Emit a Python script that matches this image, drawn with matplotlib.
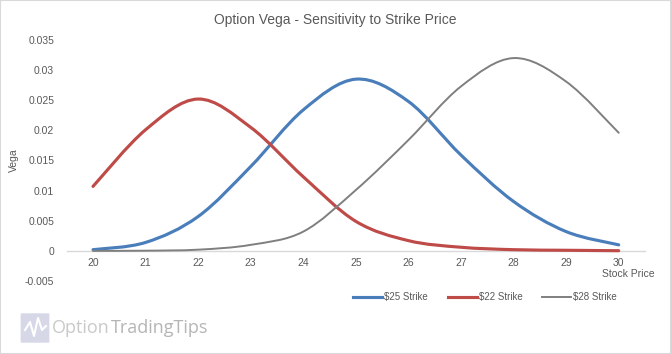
import matplotlib
matplotlib.use("Agg")
import matplotlib.pyplot as plt
from matplotlib.path import Path
from matplotlib.patches import PathPatch, Rectangle, FancyBboxPatch
from matplotlib.lines import Line2D
import numpy as np

# ---- data ----
stock_price = [20, 21, 22, 23, 24, 25, 26, 27, 28, 29, 30]
vega_25 = [0.0002, 0.0014, 0.0057, 0.0140, 0.0234, 0.0285, 0.0248, 0.0159, 0.0082, 0.0032, 0.0010]
vega_22 = [0.0107, 0.0201, 0.0252, 0.0205, 0.0123, 0.0049, 0.0017, 0.0006, 0.0002, 0.0001, 0.00003]
vega_28 = [0.0, 0.00003, 0.0002, 0.0010, 0.0032, 0.0101, 0.0184, 0.0273, 0.0320, 0.0281, 0.0196]
series_labels = ["$25 Strike", "$22 Strike", "$28 Strike"]
y_ticks = [-0.005, 0, 0.005, 0.01, 0.015, 0.02, 0.025, 0.03, 0.035]
y_tick_labels = ["-0.005", "0", "0.005", "0.01", "0.015", "0.02", "0.025", "0.03", "0.035"]
title = "Option Vega - Sensitivity to Strike Price"

FONT = "Liberation Sans"
TXT = "#595959"
plt.rcParams["font.family"] = [FONT, "DejaVu Sans"]

fig = plt.figure(figsize=(6.71, 3.54), dpi=100)
ax = fig.add_axes([66.7 / 671, 1 - 281 / 354, (645 - 66.7) / 671, (281 - 40) / 354])


def smooth_path(xs, ys):
    pts = np.column_stack([xs, ys]).astype(float)
    n = len(pts)
    verts = [pts[0]]
    codes = [Path.MOVETO]
    for i in range(n - 1):
        p0 = pts[i - 1] if i > 0 else pts[i]
        p1 = pts[i]
        p2 = pts[i + 1]
        p3 = pts[i + 2] if i + 2 < n else pts[i + 1]
        c1 = p1 + (p2 - p0) / 6.0
        c2 = p2 - (p3 - p1) / 6.0
        verts += [c1, c2, p2]
        codes += [Path.CURVE4] * 3
    return Path(verts, codes)


styles = [("#4A7EBB", 2.25), ("#BE4B48", 2.25), ("#7F7F7F", 1.4)]
handles = []
for ys, (col, lw), lab in zip([vega_25, vega_22, vega_28], styles, series_labels):
    ax.add_patch(PathPatch(smooth_path(stock_price, ys), fill=False, edgecolor=col,
                           lw=lw, capstyle="round", joinstyle="round", zorder=3))
    handles.append(Line2D([], [], color=col, lw=lw, label=lab))

ax.set_xlim(19.5, 30.5)
ax.set_ylim(-0.005, 0.035)
ax.set_xticks(stock_price)
ax.set_xticklabels([str(v) for v in stock_price])
ax.set_yticks(y_ticks)
ax.set_yticklabels(y_tick_labels)
for s in ["top", "right", "left"]:
    ax.spines[s].set_visible(False)
ax.spines["bottom"].set_position(("data", 0))
ax.spines["bottom"].set_color("#D9D9D9")
ax.spines["bottom"].set_linewidth(1.0)
ax.tick_params(axis="both", length=0, labelsize=7.5, labelcolor=TXT)
ax.tick_params(axis="x", pad=5)
ax.tick_params(axis="y", pad=9)
ax.patch.set_alpha(0)

fig.text(335 / 671, 1 - 20 / 354, title, ha="center", va="center", fontsize=10, color=TXT)
fig.text(14 / 671, 1 - 160 / 354, "Vega", ha="center", va="center", rotation=90,
         fontsize=7.5, color=TXT)
fig.text(655 / 671, 1 - 274 / 354, "Stock Price", ha="right", va="center",
         fontsize=7.5, color=TXT)

fig.legend(handles=handles, loc="center", bbox_to_anchor=(485 / 671, 1 - 297 / 354),
           ncol=3, frameon=False, fontsize=7, handlelength=3.0, handletextpad=0.2,
           columnspacing=2.0, labelcolor=TXT)

# watermark logo
fig.patches.append(FancyBboxPatch((22 / 671, 1 - 342 / 354), 26 / 671, 28 / 354,
                                  boxstyle="round,pad=0.002", transform=fig.transFigure,
                                  facecolor="#D6D8E8", edgecolor="none", zorder=1))
wx = np.array([25, 30, 34, 38, 42, 46]) / 671
wy = 1 - np.array([330, 322, 336, 318, 330, 326]) / 354
fig.lines.append(Line2D(wx, wy, transform=fig.transFigure, color="white", lw=1.5))
fig.text(52 / 671, 1 - 328 / 354, "Option", ha="left", va="center", fontsize=13,
         color="#C9C9C9", family=["Open Sans", "DejaVu Sans"])
fig.text(111 / 671, 1 - 328 / 354, "TradingTips", ha="left", va="center", fontsize=13,
         color="#B5B5B5", family=["Open Sans", "DejaVu Sans"])

# outer frame
fig.patches.append(Rectangle((0, 0), 1, 1, transform=fig.transFigure, fill=False,
                             edgecolor="#D9D9D9", lw=1.5))

fig.savefig("out.png", dpi=100)
